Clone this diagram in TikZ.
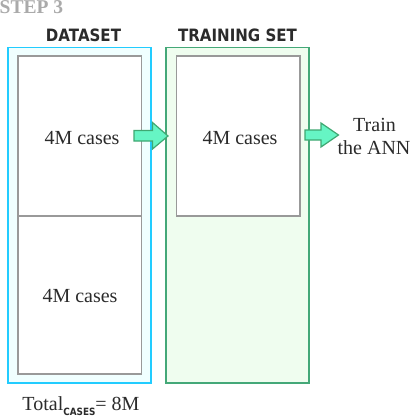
\documentclass[tikz,border=0pt]{standalone}
\usepackage{fontspec}
\setmainfont{Liberation Serif}
\setsansfont{Liberation Sans}
\newfontfamily\headfont[FakeStretch=0.885]{DejaVu Sans Bold}
\definecolor{cyanline}{HTML}{22CCFF}
\definecolor{cyanfill}{HTML}{F0FFFF}
\definecolor{greenline}{HTML}{44A878}
\definecolor{greenfill}{HTML}{EFFDEF}
\definecolor{arrowfill}{HTML}{66F5C4}
\definecolor{arrowline}{HTML}{3FA872}
\definecolor{innerline}{HTML}{999999}
\definecolor{txt}{HTML}{2B2B2B}
\definecolor{steptxt}{HTML}{AAAAAA}
\tikzset{
  outerds/.style={draw=cyanline, fill=cyanfill, line width=1.8pt},
  outerts/.style={draw=greenline, fill=greenfill, line width=1.8pt},
  innerbox/.style={draw=innerline, fill=white, line width=1.4pt},
  bigarrow/.style={draw=arrowline, fill=arrowfill, line width=1.2pt, line join=miter},
  seriftxt/.style={font=\fontsize{20}{22}\selectfont, text=txt, inner sep=0pt, anchor=base},
  headtxt/.style={font=\fontsize{17}{18}\selectfont\headfont, text=txt, inner sep=0pt, anchor=base},
}
\begin{document}
\begin{tikzpicture}[x=1pt,y=-1pt]
\useasboundingbox[fill=white] (0,0) rectangle (410,417);
% outer boxes
\draw[outerds] (8,47.5) rectangle (151,383);
\draw[outerts] (166,47.5) rectangle (309,383);
% inner boxes
\draw[innerbox] (18,56) rectangle (141.5,216);
\draw[innerbox] (18,216) rectangle (141.5,374);
\draw[innerbox] (176.5,56) rectangle (300,216);
% arrows
\draw[bigarrow] (134,130.5) -- (152.5,130.5) -- (152.5,122.5) -- (168,136) -- (152.5,149) -- (152.5,141) -- (134,141) -- cycle;
\draw[bigarrow] (305,130) -- (321,130) -- (321,123) -- (338.5,135) -- (321,147) -- (321,140) -- (305,140) -- cycle;
% texts
\node[font=\fontsize{19.5}{20}\selectfont\bfseries, text=steptxt, inner sep=0pt, anchor=base west] (step) at (-0.5,14) {STEP 3};
\node[headtxt] (dsh) at (83.5,42) {DATASET};
\node[headtxt] (tsh) at (237.5,42) {TRAINING SET};
\node[seriftxt] (c1) at (82,144) {4M cases};
\node[seriftxt] (c2) at (80,302.5) {4M cases};
\node[seriftxt] (c3) at (240,144) {4M cases};
\node[seriftxt] (tr1) at (374.5,131.5) {Train};
\node[seriftxt] (tr2) at (374,154.5) {the ANN};
\node[seriftxt] (tot) at (81,410) {Total\raisebox{-5.5pt}{\fontsize{10}{10}\selectfont\headfont CASES}= 8M};
\end{tikzpicture}
\end{document}
